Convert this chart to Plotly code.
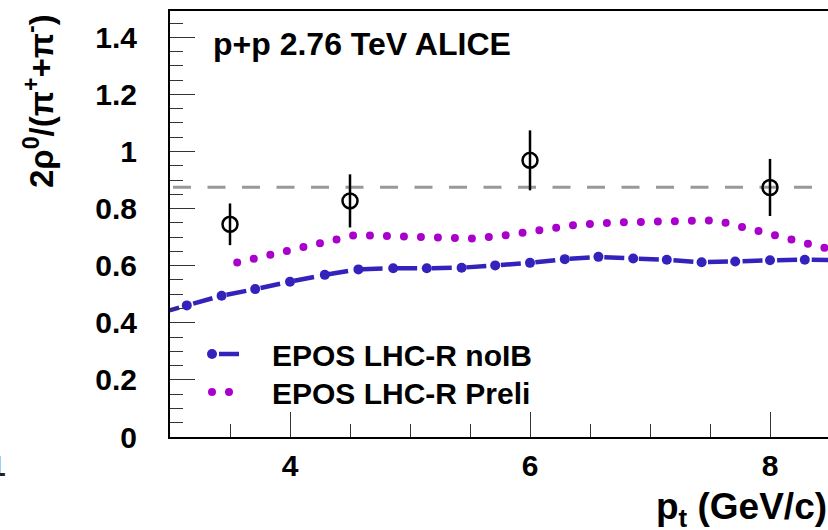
import plotly.graph_objects as go

# ---------------- data ----------------
blue_x = [2.86, 3.14, 3.43, 3.71, 4.00, 4.29, 4.57, 4.86, 5.14, 5.43, 5.71,
          6.00, 6.29, 6.57, 6.86, 7.14, 7.43, 7.71, 8.00, 8.29, 8.57]
blue_y = [0.427, 0.461, 0.495, 0.518, 0.544, 0.568, 0.587, 0.591, 0.591, 0.593, 0.601,
          0.610, 0.623, 0.631, 0.625, 0.621, 0.612, 0.615, 0.619, 0.621, 0.619]

magenta_x = [3.56, 3.85, 4.13, 4.41, 4.56, 4.69, 4.98, 5.27, 5.41, 5.55, 5.84, 6.12,
             6.40, 6.69, 6.98, 7.27, 7.41, 7.55, 7.69, 7.97, 8.25, 8.40, 8.57]
magenta_y = [0.611, 0.640, 0.671, 0.700, 0.709, 0.705, 0.700, 0.696, 0.692, 0.695, 0.709, 0.726,
             0.744, 0.751, 0.754, 0.758, 0.761, 0.759, 0.744, 0.713, 0.685, 0.670, 0.650]

data_x = [3.5, 4.5, 6.0, 8.0]
data_y = [0.745, 0.827, 0.969, 0.874]
data_err = [0.073, 0.093, 0.105, 0.100]

ref_level = 0.875

x_tick_vals = [4, 6, 8]
x_tick_text = ["4", "6", "8"]
y_tick_vals = [0, 0.2, 0.4, 0.6, 0.8, 1.0, 1.2, 1.4]
y_tick_text = ["0", "0.2", "0.4", "0.6", "0.8", "1", "1.2", "1.4"]

name_blue = "EPOS LHC-R noIB"
name_magenta = "EPOS LHC-R Preli"
label_text = "p+p 2.76 TeV ALICE"

# ---------------- layout constants ----------------
W, H = 828, 530
ML, MR, MT, MB = 170, 0, 11, 93
PX_PER_X = 120.0
PX_PER_Y = 285.5
X_RANGE = [3.0, 3.0 + (W - ML - MR) / PX_PER_X]
Y_RANGE = [0.0, (H - MT - MB) / PX_PER_Y]

FONT = "Liberation Sans, Arial, Helvetica, sans-serif"
BLUE = "#3322bb"
MAGENTA = "#aa00cc"
GRAY = "#999999"


def px_to_paper_x(px):
    return (px - ML) / (W - ML - MR)


def px_to_paper_y(py):
    return (H - MB - py) / (H - MT - MB)


fig = go.Figure()

# reference dashed line
fig.add_trace(go.Scatter(
    x=[X_RANGE[0], X_RANGE[1] + 0.5], y=[ref_level, ref_level],
    mode="lines", line=dict(color=GRAY, width=3, dash="0px,3px,18px,13.5px"),
    showlegend=False, hoverinfo="skip"))

# magenta dotted curve
fig.add_trace(go.Scatter(
    x=magenta_x, y=magenta_y, mode="lines", name="\u00a0\u00a0\u00a0" + name_magenta,
    line=dict(color=MAGENTA, width=8, dash="0px,17px"), legend="legend2"))

# blue dash-dot curve with markers
fig.add_trace(go.Scatter(
    x=blue_x, y=blue_y, mode="lines+markers", name="\u00a0\u00a0\u00a0" + name_blue,
    line=dict(color=BLUE, width=4.5, dash="0px,7px,20px,7.6px", simplify=False),
    marker=dict(color=BLUE, size=10, line=dict(width=0)), legend="legend"))

# data points
fig.add_trace(go.Scatter(
    x=data_x, y=data_y, mode="markers",
    marker=dict(symbol="circle-open", size=15, color="black", line=dict(width=2.5, color="black")),
    error_y=dict(type="data", array=data_err, visible=True, thickness=2.5, width=0, color="black"),
    showlegend=False))

tickfont = dict(family=FONT, size=30, color="black", weight="bold")

fig.update_xaxes(
    range=X_RANGE, showgrid=False, zeroline=False,
    showline=True, linecolor="black", linewidth=2, mirror=True,
    tickmode="array", tickvals=x_tick_vals, ticktext=x_tick_text,
    ticks="inside", ticklen=25, tickwidth=1, tickcolor="#333333",
    minor=dict(tickmode="linear", tick0=0, dtick=0.5, ticks="inside", ticklen=13,
               tickwidth=1, tickcolor="#333333", showgrid=False),
    tickfont=tickfont, ticklabelstandoff=1)

fig.update_yaxes(
    range=Y_RANGE, showgrid=False, zeroline=False,
    showline=True, linecolor="black", linewidth=2, mirror=False,
    tickmode="array", tickvals=y_tick_vals, ticktext=y_tick_text,
    ticks="inside", ticklen=25, tickwidth=1, tickcolor="#333333",
    minor=dict(tickmode="linear", tick0=0, dtick=0.05, ticks="inside", ticklen=13,
               tickwidth=1, tickcolor="#333333", showgrid=False),
    tickfont=tickfont, ticklabelstandoff=25)

annotations = [
    dict(text=label_text, xref="paper", yref="paper", x=px_to_paper_x(211), y=px_to_paper_y(44),
         xanchor="left", yanchor="middle", showarrow=False,
         font=dict(family=FONT, size=32, color="black", weight="bold")),
    dict(text="2\u03c1<sup>0</sup>/(\u03c0<sup>+</sup>+\u03c0<sup>-</sup>)", xref="paper", yref="paper",
         x=px_to_paper_x(39), y=px_to_paper_y(101), xanchor="center", yanchor="middle",
         textangle=-90, showarrow=False,
         font=dict(family=FONT, size=33, color="black", weight="bold")),
    dict(text="p<sub>t</sub> (GeV/c)", xref="paper", yref="paper",
         x=px_to_paper_x(829), y=px_to_paper_y(509), xanchor="right", yanchor="middle",
         showarrow=False, font=dict(family=FONT, size=37, color="black", weight="bold")),
    dict(text="1", xref="paper", yref="paper",
         x=px_to_paper_x(7.5), y=px_to_paper_y(465), xanchor="right", yanchor="middle",
         showarrow=False, font=dict(family=FONT, size=30, color="#222222", weight="bold")),
]

legend_style = dict(xanchor="left", yanchor="top", bgcolor="rgba(0,0,0,0)", borderwidth=0,
                    itemwidth=30, font=dict(family=FONT, size=30, color="black", weight="bold"))

fig.update_layout(
    width=W, height=H, autosize=False,
    margin=dict(l=ML, r=MR, t=MT, b=MB, pad=0),
    paper_bgcolor="white", plot_bgcolor="white",
    annotations=annotations,
    legend=dict(x=px_to_paper_x(207), y=px_to_paper_y(328), **legend_style),
    legend2=dict(x=px_to_paper_x(207), y=px_to_paper_y(366), **legend_style),
)

post = """
var gd = document.getElementById('{plot_id}');
function fixCaps(){
  gd.querySelectorAll('path').forEach(function(p){
    var s = (p.style.stroke || '').replace(/\\s/g,'');
    if (s === 'rgb(170,0,204)') { p.style.strokeLinecap = 'round'; }
  });
  var items = gd.querySelectorAll('.legend .traces');
  items.forEach(function(it){
    var pts = it.querySelectorAll('.legendpoints path.scatterpts');
    pts.forEach(function(pt){ pt.setAttribute('transform','translate(5,0)'); });
  });
}
fixCaps();
gd.on('plotly_afterplot', fixCaps);
"""

fig.write_html("out.html", post_script=post, config={"displayModeBar": False})
